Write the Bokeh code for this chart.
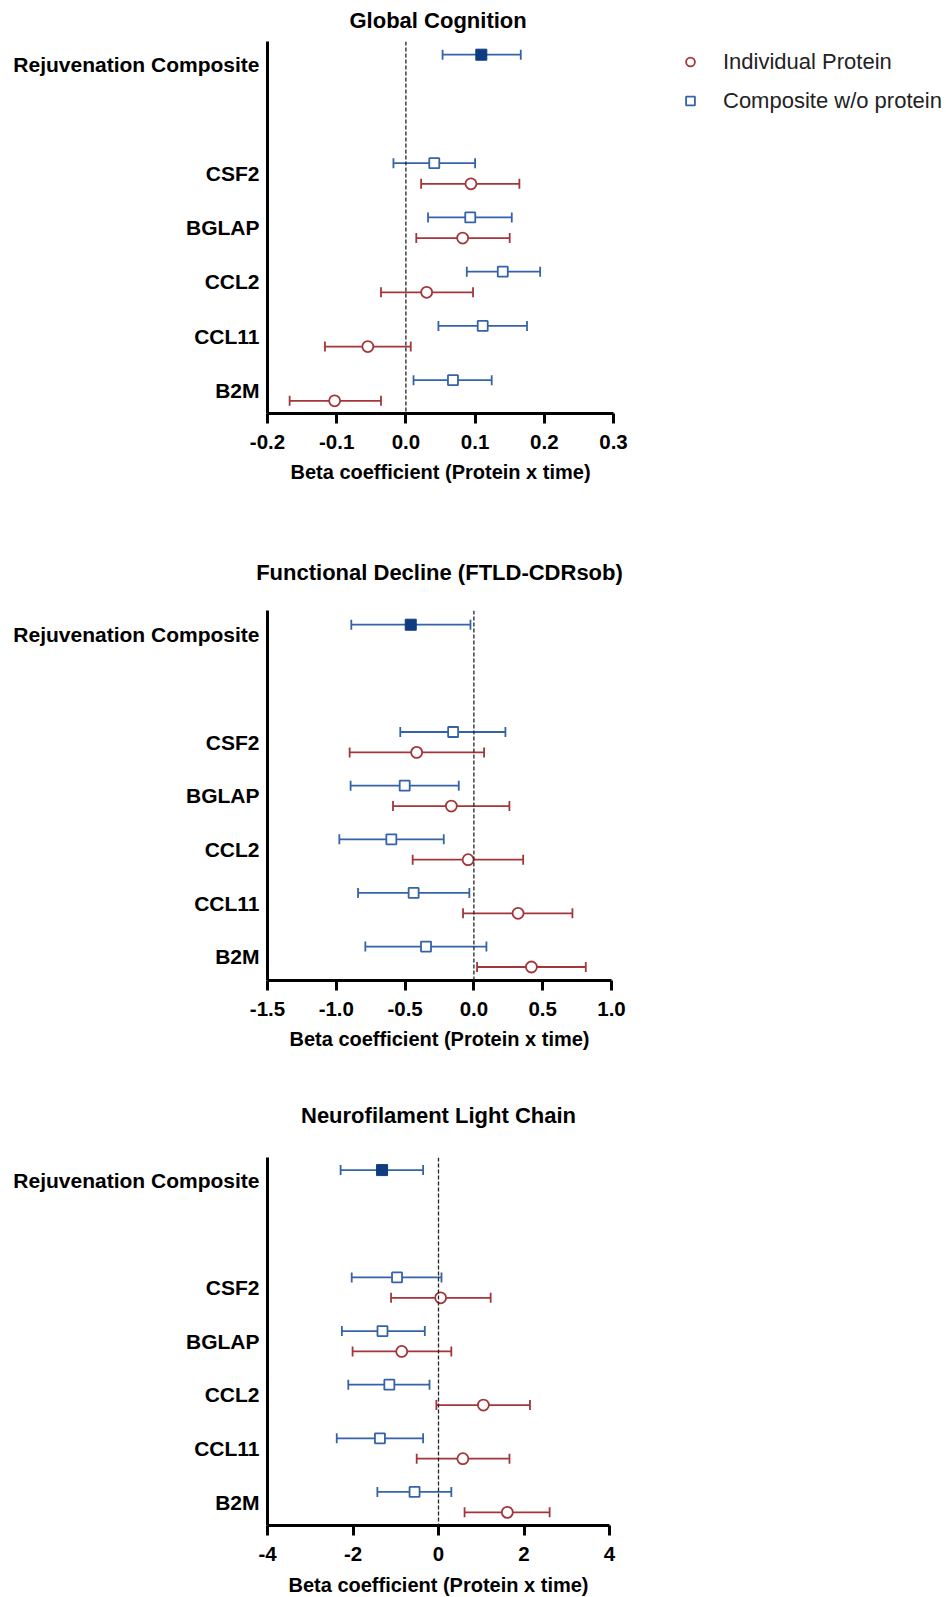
from bokeh.plotting import figure
from bokeh.models import (Range1d, FixedTicker, Whisker, TeeHead, ColumnDataSource,
                          Span, Legend, LegendItem, Title)
from bokeh.layouts import column
from bokeh.embed import file_html
from bokeh.resources import INLINE

# ---------------- data ----------------
proteins = ["B2M", "CCL11", "CCL2", "BGLAP", "CSF2"]
composite_label = "Rejuvenation Composite"
legend_labels = ["Individual Protein", "Composite w/o protein"]
x_title = "Beta coefficient (Protein x time)"

# Global Cognition
gc_title = "Global Cognition"
gc_ind_beta = [-0.103, -0.055, 0.030, 0.082, 0.094]
gc_ind_lo = [-0.168, -0.117, -0.036, 0.015, 0.022]
gc_ind_hi = [-0.036, 0.007, 0.097, 0.150, 0.164]
gc_cmp_beta = [0.068, 0.111, 0.140, 0.093, 0.041]
gc_cmp_lo = [0.011, 0.047, 0.088, 0.032, -0.018]
gc_cmp_hi = [0.124, 0.175, 0.194, 0.153, 0.100]
gc_rej_beta = [0.109]
gc_rej_lo = [0.053]
gc_rej_hi = [0.166]
gc_ticks = [-0.2, -0.1, 0.0, 0.1, 0.2, 0.3]
gc_tick_labels = ["-0.2", "-0.1", "0.0", "0.1", "0.2", "0.3"]

# Functional Decline (FTLD-CDRsob)
fd_title = "Functional Decline (FTLD-CDRsob)"
fd_ind_beta = [0.418, 0.321, -0.042, -0.164, -0.416]
fd_ind_lo = [0.023, -0.079, -0.445, -0.588, -0.903]
fd_ind_hi = [0.813, 0.716, 0.358, 0.258, 0.074]
fd_cmp_beta = [-0.348, -0.438, -0.600, -0.503, -0.151]
fd_cmp_lo = [-0.789, -0.842, -0.978, -0.896, -0.535]
fd_cmp_hi = [0.091, -0.033, -0.219, -0.110, 0.229]
fd_rej_beta = [-0.459]
fd_rej_lo = [-0.891]
fd_rej_hi = [-0.025]
fd_ticks = [-1.5, -1.0, -0.5, 0.0, 0.5, 1.0]
fd_tick_labels = ["-1.5", "-1.0", "-0.5", "0.0", "0.5", "1.0"]

# Neurofilament Light Chain
nf_title = "Neurofilament Light Chain"
nf_ind_beta = [1.61, 0.57, 1.05, -0.86, 0.05]
nf_ind_lo = [0.61, -0.51, -0.05, -2.01, -1.11]
nf_ind_hi = [2.60, 1.66, 2.14, 0.30, 1.22]
nf_cmp_beta = [-0.56, -1.37, -1.15, -1.31, -0.97]
nf_cmp_lo = [-1.43, -2.38, -2.11, -2.26, -2.03]
nf_cmp_hi = [0.30, -0.36, -0.21, -0.32, 0.07]
nf_rej_beta = [-1.32]
nf_rej_lo = [-2.29]
nf_rej_hi = [-0.36]
nf_ticks = [-4, -2, 0, 2, 4]
nf_tick_labels = ["-4", "-2", "0", "2", "4"]

# ---------------- style ----------------
FONT = "Liberation Sans"
RED = "#a2363b"
BLUE = "#3563aa"
NAVY = "#0f3c80"
ROW_POS = [1, 2, 3, 4, 5]
REJ_POS = 7
OFF = 0.19


def whisker(p, src, color):
    w = Whisker(source=src, base="y", lower="lo", upper="hi", dimension="width",
                line_color=color, line_width=1.8,
                upper_head=TeeHead(size=10, line_color=color, line_width=1.8),
                lower_head=TeeHead(size=10, line_color=color, line_width=1.8))
    p.add_layout(w)


def panel(title, ind_b, ind_lo, ind_hi, cmp_b, cmp_lo, cmp_hi, rej_b, rej_lo, rej_hi,
          ticks, tick_labels, fw, fh, yr, btop, bbot, bright, tstand, valign,
          x_end=None, title_offset=None, legend=False, xlab_standoff=9):
    p = figure(frame_width=fw, frame_height=fh,
               x_range=Range1d(ticks[0], ticks[-1] if x_end is None else x_end),
               y_range=Range1d(*yr), output_backend="svg", toolbar_location=None,
               min_border_left=267, min_border_right=bright, min_border_top=btop,
               min_border_bottom=bbot, outline_line_color=None,
               background_fill_color="white", border_fill_color="white")
    p.xgrid.visible = False
    p.ygrid.visible = False

    ind_src = ColumnDataSource(dict(x=ind_b, lo=ind_lo, hi=ind_hi,
                                    y=[r - OFF for r in ROW_POS]))
    cmp_src = ColumnDataSource(dict(x=cmp_b, lo=cmp_lo, hi=cmp_hi,
                                    y=[r + OFF for r in ROW_POS]))
    rej_src = ColumnDataSource(dict(x=rej_b, lo=rej_lo, hi=rej_hi,
                                    y=[REJ_POS + OFF]))

    p.add_layout(Span(location=0, dimension="height", line_color="#222222",
                      line_dash="4 2", line_width=1.3))
    whisker(p, ind_src, RED)
    whisker(p, cmp_src, BLUE)
    whisker(p, rej_src, BLUE)
    r_ind = p.scatter("x", "y", source=ind_src, marker="circle", size=11,
                      fill_color="white", line_color=RED, line_width=1.8)
    r_cmp = p.scatter("x", "y", source=cmp_src, marker="square", size=10,
                      fill_color="white", line_color=BLUE, line_width=1.8)
    p.scatter("x", "y", source=rej_src, marker="square", size=11,
              fill_color=NAVY, line_color=NAVY, line_width=1)

    p.title.text = title
    if title_offset is None:
        p.title.align = "center"
    else:
        p.title.align = "left"
        p.title.offset = title_offset
    p.title.vertical_align = valign
    p.title.text_font = FONT
    p.title.text_font_size = "22px"
    p.title.text_font_style = "bold"
    p.title.text_color = "black"
    p.title.standoff = tstand

    xa = p.xaxis[0]
    xa.ticker = FixedTicker(ticks=ticks, minor_ticks=[])
    xa.bounds = (ticks[0], ticks[-1])
    xa.major_label_overrides = {t: l for t, l in zip(ticks, tick_labels)}
    xa.axis_line_width = 3
    xa.axis_line_color = "black"
    xa.major_tick_line_width = 3
    xa.major_tick_line_color = "black"
    xa.major_tick_out = 10
    xa.major_tick_in = 0
    xa.minor_tick_line_color = None
    xa.major_label_standoff = 11
    xa.major_label_text_font = FONT
    xa.major_label_text_font_size = "20.5px"
    xa.major_label_text_font_style = "bold"
    xa.major_label_text_color = "black"
    if x_end is None:
        xa.axis_label = x_title
        xa.axis_label_text_font = FONT
        xa.axis_label_text_font_size = "20px"
        xa.axis_label_text_font_style = "bold"
        xa.axis_label_text_color = "black"
        xa.axis_label_standoff = xlab_standoff
    else:
        # frame is wider than the axis (legend lives to the right), so the axis
        # title is placed as a below-title aligned to the bounded axis
        p.add_layout(Title(text=x_title, align="left", offset=23, vertical_align="top",
                           standoff=18, text_font=FONT, text_font_size="20px",
                           text_font_style="bold", text_color="black"), "below")

    ya = p.yaxis[0]
    ya.ticker = FixedTicker(ticks=ROW_POS + [REJ_POS], minor_ticks=[])
    ya.major_label_overrides = {**{r: n for r, n in zip(ROW_POS, proteins)},
                                REJ_POS: composite_label}
    ya.axis_line_width = 3
    ya.axis_line_color = "black"
    ya.major_tick_out = 0
    ya.major_tick_in = 0
    ya.major_tick_line_color = None
    ya.minor_tick_line_color = None
    ya.major_label_standoff = 8
    ya.major_label_text_font = FONT
    ya.major_label_text_font_size = "21px"
    ya.major_label_text_font_style = "bold"
    ya.major_label_text_color = "black"

    if legend:
        lg = Legend(items=[LegendItem(label=legend_labels[0], renderers=[r_ind]),
                           LegendItem(label=legend_labels[1], renderers=[r_cmp])],
                    location=(412, fh - 78), margin=0, padding=2, spacing=2,
                    glyph_width=22, glyph_height=37, label_height=37,
                    label_standoff=22, label_text_font=FONT,
                    label_text_font_size="22px", label_text_color="#222222",
                    border_line_color=None, background_fill_alpha=0)
        p.add_layout(lg)
    return p


# panel 1: frame extends right so the legend sits inside it; axis limited by bounds
p1 = panel(gc_title, gc_ind_beta, gc_ind_lo, gc_ind_hi, gc_cmp_beta, gc_cmp_lo, gc_cmp_hi,
           gc_rej_beta, gc_rej_lo, gc_rej_hi, gc_ticks, gc_tick_labels,
           677, 372, (0.576, 7.433), 41, 118, 0, 13, "top",
           x_end=-0.2 + 677 / 692.0, title_offset=82, legend=True)
p2 = panel(fd_title, fd_ind_beta, fd_ind_lo, fd_ind_hi, fd_cmp_beta, fd_cmp_lo, fd_cmp_hi,
           fd_rej_beta, fd_rej_lo, fd_rej_hi, fd_ticks, fd_tick_labels,
           344, 370, (0.558, 7.455), 10, 91, 60, 52, "bottom")
p3 = panel(nf_title, nf_ind_beta, nf_ind_lo, nf_ind_hi, nf_cmp_beta, nf_cmp_lo, nf_cmp_hi,
           nf_rej_beta, nf_rej_lo, nf_rej_hi, nf_ticks, nf_tick_labels,
           342, 368, (0.565, 7.425), 10, 70, 60, 59, "bottom", xlab_standoff=10)

layout = column(p1, p2, p3)
open("out.html", "w").write(file_html(layout, INLINE))
